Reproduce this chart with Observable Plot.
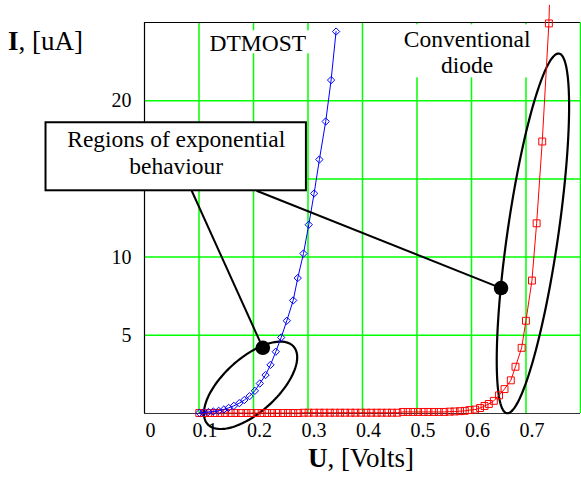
<!DOCTYPE html>
<html>
<head>
<meta charset="utf-8">
<script src="https://cdn.jsdelivr.net/npm/d3@7"></script>
<script src="https://cdn.jsdelivr.net/npm/@observablehq/plot@0.6"></script>
<style>
  html, body { margin: 0; padding: 0; background: #fff; }
  #chart { width: 581px; height: 478px; }
</style>
</head>
<body>
<div id="chart"></div>
<script>
// ---- Data ----
// DTMOST (blue diamonds)
const dtmostU = [0.1007, 0.1080, 0.1172, 0.1263, 0.1360, 0.1457, 0.1543, 0.1640, 0.1739, 0.1831,
                 0.1928, 0.2025, 0.2116, 0.2221, 0.2312, 0.2409, 0.2508, 0.2611, 0.2728, 0.2812,
                 0.2917, 0.3014, 0.3112, 0.3209, 0.3325, 0.3424, 0.3515];
const dtmostI = [0.04, 0.06, 0.09, 0.13, 0.17, 0.26, 0.36, 0.49, 0.66, 0.86,
                 1.11, 1.45, 1.92, 2.46, 3.11, 3.95, 4.86, 5.93, 7.23, 8.66,
                 10.23, 12.07, 14.07, 16.24, 18.67, 21.32, 24.42];

// Conventional diode (red squares); last value is where the trace leaves the picture
const diodeU = [0.1005, 0.110, 0.120, 0.129, 0.139, 0.148, 0.158, 0.167, 0.177, 0.187,
                0.196, 0.206, 0.215, 0.225, 0.234, 0.244, 0.254, 0.263, 0.273, 0.282,
                0.292, 0.301, 0.311, 0.321, 0.330, 0.340, 0.349, 0.359, 0.368, 0.378,
                0.387, 0.397, 0.407, 0.416, 0.426, 0.435, 0.445, 0.454, 0.464, 0.474,
                0.483, 0.493, 0.502, 0.512, 0.521, 0.531, 0.540, 0.550, 0.560, 0.569,
                0.579, 0.5877, 0.5965, 0.6065, 0.6157, 0.6239, 0.6318, 0.6410, 0.6505, 0.6606,
                0.6721, 0.6807, 0.6920, 0.6999, 0.7109, 0.7195, 0.7298, 0.742, 0.743];
const diodeI = [0.03, 0.03, 0.03, 0.03, 0.03, 0.03, 0.03, 0.03, 0.03, 0.03,
                0.03, 0.03, 0.03, 0.03, 0.03, 0.03, 0.03, 0.03, 0.03, 0.03,
                0.05, 0.05, 0.05, 0.05, 0.05, 0.05, 0.05, 0.05, 0.05, 0.05,
                0.05, 0.05, 0.05, 0.05, 0.05, 0.05, 0.05, 0.05, 0.05, 0.10,
                0.10, 0.10, 0.10, 0.10, 0.10, 0.10, 0.10, 0.10, 0.12, 0.13,
                0.15, 0.17, 0.22, 0.25, 0.35, 0.48, 0.61, 0.81, 1.16, 1.56,
                2.12, 2.99, 4.20, 5.93, 8.50, 12.16, 17.39, 24.94, 26.1];

// Axes
const xDomain = [0, 0.8];
const yDomain = [0, 25];
const xTickValues = [0, 0.1, 0.2, 0.3, 0.4, 0.5, 0.6, 0.7];
const yTickValues = [5, 10, 15, 20];
const xGridValues = [0.1, 0.2, 0.3, 0.4, 0.5, 0.6, 0.7, 0.8];
const yGridValues = [5, 10, 15, 20];

// Annotations (data units)
const labelNames = ["DTMOST", "Conventional\ndiode"];
const labelU = [0.2078, 0.592];
const labelI = [23.75, 23.16];
const labelBgU1 = [0.1086, 0.460];
const labelBgU2 = [0.3045, 0.7255];
const labelBgI1 = [23.0, 21.46];
const labelBgI2 = [24.47, 24.85];

const calloutText = "Regions of exponential\nbehaviour";
const calloutBoxU = [-0.1807, 0.2971];
const calloutBoxI = [14.24, 18.59];
const calloutTextPos = [0.0582, 16.75];

const pointerStartU = [0.0866, 0.2056];
const pointerStartI = [14.24, 14.24];
const pointerEndU = [0.2171, 0.6542];
const pointerEndI = [4.20, 8.02];

// ellipses: centre, half-major-axis vector, half-minor-axis vector
const ellipseCU = [0.1946, 0.7127];
const ellipseCI = [1.803, 11.515];
const ellipseAU = [0.0789, 0.0478];
const ellipseAI = [2.481, 11.50];
const ellipseBU = [0.0331, 0.0461];
const ellipseBI = [-1.285, -0.235];

// ---- Build tables ----
const dtmost = dtmostU.map((u, i) => ({u, i: dtmostI[i]}));
const diode = diodeU.map((u, i) => ({u, i: diodeI[i]}));
const labels = labelNames.map((t, k) => ({t, u: labelU[k], i: labelI[k]}));
const labelBg = labelNames.map((t, k) => ({x1: labelBgU1[k], x2: labelBgU2[k], y1: labelBgI1[k], y2: labelBgI2[k]}));
const pointers = pointerStartU.map((u, k) => ({x1: u, y1: pointerStartI[k], x2: pointerEndU[k], y2: pointerEndI[k]}));
const ellipsePts = [];
ellipseCU.forEach((cu, k) => {
  for (let s = 0; s <= 120; s++) {
    const t = (s / 120) * 2 * Math.PI;
    ellipsePts.push({
      k,
      u: cu + ellipseAU[k] * Math.cos(t) + ellipseBU[k] * Math.sin(t),
      i: ellipseCI[k] + ellipseAI[k] * Math.cos(t) + ellipseBI[k] * Math.sin(t)
    });
  }
});

const font = "'Liberation Serif', 'Times New Roman', serif";
const green = "#00ff00";

const chart = Plot.plot({
  width: 581,
  height: 478,
  marginLeft: 144,
  marginRight: 1,
  marginTop: 22,
  marginBottom: 65,
  style: {fontFamily: font, background: "#fff", color: "#000", overflow: "visible"},
  x: {domain: xDomain},
  y: {domain: yDomain},
  marks: [
    Plot.ruleX(xGridValues, {stroke: green, strokeWidth: 1.5}),
    Plot.ruleY(yGridValues, {stroke: green, strokeWidth: 1.5}),
    Plot.rect(labelBg, {x1: "x1", x2: "x2", y1: "y1", y2: "y2", fill: "#fff"}),
    Plot.ruleX([0], {stroke: "#000", strokeWidth: 1.2}),
    Plot.ruleY([0], {stroke: "#333", strokeWidth: 1.2}),
    Plot.ruleY([25], {stroke: "#000", strokeWidth: 1.2}),
    Plot.axisX({ticks: xTickValues, tickSize: 0, tickPadding: 9, fontSize: 20, label: null, dx: 6, tickFormat: d3.format("")}),
    Plot.axisY({ticks: yTickValues, tickSize: 0, tickPadding: 13, fontSize: 20, label: null}),
    Plot.line(ellipsePts, {x: "u", y: "i", z: "k", stroke: "#000", strokeWidth: 2.2}),
    Plot.line(diode, {x: "u", y: "i", stroke: "#ff0000", strokeWidth: 1}),
    Plot.dot(diode, {x: "u", y: "i", filter: d => d.i <= 25.2, symbol: "square2", r: 4.4, stroke: "#ff0000", strokeWidth: 1, fill: "none"}),
    Plot.line(dtmost, {x: "u", y: "i", stroke: "#0000ff", strokeWidth: 1}),
    Plot.dot(dtmost, {x: "u", y: "i", symbol: "diamond2", r: 3.3, stroke: "#0000ff", strokeWidth: 1, fill: "none"}),
    Plot.link(pointers, {x1: "x1", y1: "y1", x2: "x2", y2: "y2", stroke: "#000", strokeWidth: 2}),
    Plot.dot(pointers, {x: "x2", y: "y2", r: 7.3, fill: "#000"}),
    Plot.rect([{x1: calloutBoxU[0], x2: calloutBoxU[1], y1: calloutBoxI[0], y2: calloutBoxI[1]}],
      {x1: "x1", x2: "x2", y1: "y1", y2: "y2", fill: "#fff", stroke: "#000", strokeWidth: 2}),
    Plot.text([calloutText], {x: () => calloutTextPos[0], y: () => calloutTextPos[1], text: d => d, fontSize: 23.5, lineHeight: 1.15, fill: "#000"}),
    Plot.text(labels, {x: "u", y: "i", text: "t", fontSize: 23.5, lineHeight: 1.13, fill: "#000"})
  ]
});

const svg = d3.select(chart);
const yt = svg.append("text").attr("x", 8).attr("y", 50).attr("text-anchor", "start")
  .attr("font-family", font).attr("font-size", 27).attr("fill", "#000");
yt.append("tspan").attr("font-weight", "bold").text("I");
yt.append("tspan").text(", [uA]");
const xt = svg.append("text").attr("x", 361).attr("y", 467).attr("text-anchor", "middle")
  .attr("font-family", font).attr("font-size", 27).attr("fill", "#000");
xt.append("tspan").attr("font-weight", "bold").text("U");
xt.append("tspan").text(", [Volts]");

document.getElementById("chart").appendChild(chart);
</script>
</body>
</html>
